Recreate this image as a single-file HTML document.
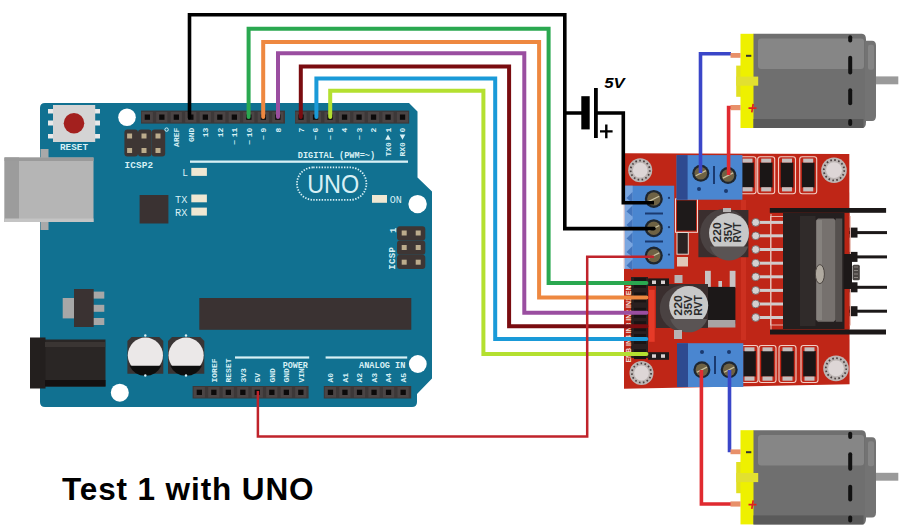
<!DOCTYPE html>
<html><head><meta charset="utf-8">
<style>
html,body{margin:0;padding:0;background:#fff;width:906px;height:529px;overflow:hidden}
svg{display:block;position:absolute;left:0;top:0}
.t{position:absolute;left:62px;top:471px;font-family:"Liberation Sans",sans-serif;font-weight:bold;font-size:31.5px;color:#000;letter-spacing:0.88px;white-space:nowrap;line-height:36px}
</style></head>
<body>
<svg width="906" height="529" viewBox="0 0 906 529" font-family="Liberation Mono">
<!-- ============ ARDUINO ============ -->
<g id="arduino">
  <path d="M45,103 H409 L417.5,111.5 V177.5 L432,191.5 V378.5 L417,394 V402 Q417,407 412,407 H45 Q40,407 40,402 V108 Q40,103 45,103 Z" fill="#117191"/>
  <!-- USB -->
  <rect x="40.5" y="149" width="8" height="81" fill="#a9a9a9"/>
  <rect x="4.5" y="157.5" width="89" height="64.5" fill="#b5b5b5"/>
  <rect x="4.5" y="157.5" width="14.5" height="64.5" fill="#9c9c9c"/>
  <rect x="4.5" y="157.5" width="89" height="3.5" fill="#9a9a9a"/>
  <rect x="4.5" y="218.5" width="89" height="3.5" fill="#c4c4c4"/>
  <!-- DC jack -->
  <rect x="45" y="339.5" width="60.5" height="47" fill="#2a2625"/>
  <rect x="30" y="337.5" width="15.5" height="51" fill="#231f1e"/>
  <rect x="45" y="342" width="60" height="5" fill="#3a3533"/>
  <rect x="45" y="380" width="60.5" height="6.5" fill="#141010"/>
  <!-- regulator -->
  <rect x="62.7" y="298" width="12" height="20.4" fill="#a7a7a7"/>
  <rect x="93" y="291.6" width="11.3" height="7" fill="#a7a7a7"/>
  <rect x="93" y="304.8" width="11.3" height="7" fill="#a7a7a7"/>
  <rect x="93" y="318" width="11.3" height="7" fill="#a7a7a7"/>
  <rect x="74" y="289" width="19.7" height="38" fill="#3a3232"/>
  <!-- reset button -->
  <rect x="48" y="109" width="52" height="4.5" fill="#e8e8e8"/>
  <rect x="48" y="120.5" width="52" height="5" fill="#e8e8e8"/>
  <rect x="48" y="134" width="52" height="4.5" fill="#e8e8e8"/>
  <rect x="53" y="105" width="42.2" height="37" fill="#d4d4d4"/>
  <circle cx="74" cy="123.3" r="10.3" fill="#a3201e"/>
  <text x="60" y="150.3" font-size="9.3" font-weight="bold" fill="#d8f0f5" textLength="28">RESET</text>
  <!-- holes -->
  <circle cx="127" cy="117.2" r="8.8" fill="#fff"/>
  <circle cx="417.6" cy="204.1" r="9.2" fill="#fff"/>
  <circle cx="119.8" cy="392.7" r="9" fill="#fff"/>
  <circle cx="417.8" cy="364" r="8.9" fill="#fff"/>
  <!-- ICSP2 -->
  <g fill="#3e3634">
    <rect x="124.4" y="129.6" width="13.6" height="27" rx="3"/>
    <rect x="138" y="129.6" width="13.6" height="27" rx="3"/>
    <rect x="151.6" y="129.6" width="13.6" height="27" rx="3"/>
  </g>
  <g fill="#bcac8c">
    <rect x="127.1" y="133.5" width="5" height="5"/><rect x="141.5" y="133.5" width="5" height="5"/><rect x="155.5" y="133.5" width="5" height="5"/>
    <rect x="127.1" y="148" width="5" height="5"/><rect x="141.5" y="148" width="5" height="5"/><rect x="155.5" y="148" width="5" height="5"/>
  </g>
  <text x="124.4" y="168.3" font-size="9.3" font-weight="bold" fill="#d8f0f5" textLength="28.6">ICSP2</text>
  <!-- ICSP -->
  <g fill="#3e3634">
    <rect x="397" y="226.3" width="28.3" height="14.2" rx="3"/>
    <rect x="397" y="240.5" width="28.3" height="14.2" rx="3"/>
    <rect x="397" y="254.7" width="28.3" height="14.3" rx="3"/>
  </g>
  <g fill="#bcac8c">
    <rect x="401.7" y="230.5" width="5" height="5"/><rect x="415.7" y="230.5" width="5" height="5"/>
    <rect x="401.7" y="245" width="5" height="5"/><rect x="415.7" y="245" width="5" height="5"/>
    <rect x="401.7" y="259.7" width="5" height="5"/><rect x="415.7" y="259.7" width="5" height="5"/>
  </g>
  <text transform="translate(395.3,269.7) rotate(-90)" font-size="9" font-weight="bold" fill="#d8f0f5" textLength="22.5">ICSP</text>
  <text transform="translate(395.8,233) rotate(-90)" font-size="9" font-weight="bold" fill="#d8f0f5">1</text>
  <!-- chips -->
  <rect x="139.6" y="195" width="28.8" height="28.5" fill="#3a3232"/>
  <rect x="199.3" y="298" width="212" height="31.8" fill="#3a3232"/>
  <!-- LEDs -->
  <g fill="#efe7d2">
    <rect x="191.3" y="167.9" width="15.6" height="8"/>
    <rect x="191.3" y="194.5" width="15.6" height="7.8"/>
    <rect x="191.3" y="207.6" width="15.6" height="8"/>
    <rect x="372" y="195" width="15" height="7.8"/>
  </g>
  <g font-family="Liberation Mono" font-size="11" fill="#d8f0f5">
    <text x="182.3" y="176.2" textLength="5.8" lengthAdjust="spacingAndGlyphs">L</text>
    <text x="175" y="202.5" textLength="12.3" lengthAdjust="spacingAndGlyphs">TX</text>
    <text x="175" y="215.7" textLength="12.3" lengthAdjust="spacingAndGlyphs">RX</text>
    <text x="389.7" y="203" textLength="12.1" lengthAdjust="spacingAndGlyphs">ON</text>
  </g>
  <!-- white lines -->
  <rect x="190" y="160.5" width="218" height="2.3" fill="#d8f0f5"/>
  <rect x="235" y="356.4" width="74.2" height="2.2" fill="#d8f0f5"/>
  <rect x="325.6" y="356.4" width="81.6" height="2.2" fill="#d8f0f5"/>
  <text x="297.8" y="158" font-size="8.6" font-weight="bold" fill="#d8f0f5">DIGITAL (PWM=~)</text>
  <text x="282.7" y="367.5" font-size="8.4" font-weight="bold" fill="#d8f0f5">POWER</text>
  <text x="359" y="367.5" font-size="8.6" font-weight="bold" fill="#d8f0f5">ANALOG IN</text>
  <!-- UNO -->
  <rect x="297" y="167.4" width="69.4" height="32.5" rx="16.2" fill="none" stroke="#d8f0f5" stroke-width="1.8" stroke-dasharray="1.4 1.4"/>
  <text x="307.2" y="193" font-size="25.5" fill="#d8f0f5" style="font-family:'Liberation Sans'" textLength="52" lengthAdjust="spacingAndGlyphs">UNO</text>
  <circle cx="166.6" cy="129.6" r="1.7" fill="none" stroke="#d8f0f5" stroke-width="1"/>
  <!-- capacitors -->
  <path d="M131.5,337 H159.3 L163.3,341 V373.8 H127.4 V341 Z" fill="#3a3535"/>
  <path d="M172,337 H200.3 L204.3,341 V373.8 H168 V341 Z" fill="#3a3535"/>
  <circle cx="145.4" cy="355.2" r="17.6" fill="#ebe8e8"/>
  <circle cx="186.1" cy="355.2" r="17.6" fill="#ebe8e8"/>
  <path d="M129.5,365.7 H161.3 A17.6,17.6 0 0 1 129.5,365.7 Z" fill="#0d0d0d"/>
  <path d="M170.2,365.7 H202 A17.6,17.6 0 0 1 170.2,365.7 Z" fill="#0d0d0d"/>
  <g fill="#d8f0f5"><circle cx="145.3" cy="335.5" r="1.2"/><circle cx="145.3" cy="375.5" r="1.2"/><circle cx="186" cy="335.5" r="1.2"/><circle cx="186" cy="375.5" r="1.2"/></g>
  <!-- headers -->
  <g id="hdrs">
    <rect x="141" y="110.6" width="144" height="13" fill="#3d3838"/>
    <rect x="295" y="110.6" width="114.2" height="13" fill="#3d3838"/>
    <rect x="192.6" y="386" width="116" height="12.5" fill="#3d3838"/>
    <rect x="323.8" y="386" width="87.4" height="12.5" fill="#3d3838"/>
  </g>
  <g fill="#4a4444">
<rect x="141.7" y="111.9" width="11.2" height="10.6" fill="#4b4545"/>
<rect x="156.2" y="111.9" width="11.2" height="10.6" fill="#4b4545"/>
<rect x="170.7" y="111.9" width="11.2" height="10.6" fill="#4b4545"/>
<rect x="185.2" y="111.9" width="11.2" height="10.6" fill="#4b4545"/>
<rect x="199.7" y="111.9" width="11.2" height="10.6" fill="#4b4545"/>
<rect x="214.2" y="111.9" width="11.2" height="10.6" fill="#4b4545"/>
<rect x="228.7" y="111.9" width="11.2" height="10.6" fill="#4b4545"/>
<rect x="243.2" y="111.9" width="11.2" height="10.6" fill="#4b4545"/>
<rect x="257.7" y="111.9" width="11.2" height="10.6" fill="#4b4545"/>
<rect x="272.2" y="111.9" width="11.2" height="10.6" fill="#4b4545"/>
<rect x="295.4" y="111.9" width="11.2" height="10.6" fill="#4b4545"/>
<rect x="309.9" y="111.9" width="11.2" height="10.6" fill="#4b4545"/>
<rect x="324.4" y="111.9" width="11.2" height="10.6" fill="#4b4545"/>
<rect x="338.9" y="111.9" width="11.2" height="10.6" fill="#4b4545"/>
<rect x="353.4" y="111.9" width="11.2" height="10.6" fill="#4b4545"/>
<rect x="367.9" y="111.9" width="11.2" height="10.6" fill="#4b4545"/>
<rect x="382.4" y="111.9" width="11.2" height="10.6" fill="#4b4545"/>
<rect x="396.9" y="111.9" width="11.2" height="10.6" fill="#4b4545"/>
<rect x="193.7" y="387.0" width="11.2" height="10.6" fill="#4b4545"/>
<rect x="208.2" y="387.0" width="11.2" height="10.6" fill="#4b4545"/>
<rect x="222.7" y="387.0" width="11.2" height="10.6" fill="#4b4545"/>
<rect x="237.2" y="387.0" width="11.2" height="10.6" fill="#4b4545"/>
<rect x="251.7" y="387.0" width="11.2" height="10.6" fill="#4b4545"/>
<rect x="266.2" y="387.0" width="11.2" height="10.6" fill="#4b4545"/>
<rect x="280.7" y="387.0" width="11.2" height="10.6" fill="#4b4545"/>
<rect x="295.2" y="387.0" width="11.2" height="10.6" fill="#4b4545"/>
<rect x="324.8" y="387.0" width="11.2" height="10.6" fill="#4b4545"/>
<rect x="339.3" y="387.0" width="11.2" height="10.6" fill="#4b4545"/>
<rect x="353.9" y="387.0" width="11.2" height="10.6" fill="#4b4545"/>
<rect x="368.4" y="387.0" width="11.2" height="10.6" fill="#4b4545"/>
<rect x="383.0" y="387.0" width="11.2" height="10.6" fill="#4b4545"/>
<rect x="397.5" y="387.0" width="11.2" height="10.6" fill="#4b4545"/>
</g>
<g fill="#0c0a0a">
<rect x="144.7" y="114.5" width="5.3" height="5.3"/>
<rect x="159.2" y="114.5" width="5.3" height="5.3"/>
<rect x="173.7" y="114.5" width="5.3" height="5.3"/>
<rect x="188.2" y="114.5" width="5.3" height="5.3"/>
<rect x="202.7" y="114.5" width="5.3" height="5.3"/>
<rect x="217.2" y="114.5" width="5.3" height="5.3"/>
<rect x="231.7" y="114.5" width="5.3" height="5.3"/>
<rect x="246.2" y="114.5" width="5.3" height="5.3"/>
<rect x="260.7" y="114.5" width="5.3" height="5.3"/>
<rect x="275.2" y="114.5" width="5.3" height="5.3"/>
<rect x="298.4" y="114.5" width="5.3" height="5.3"/>
<rect x="312.9" y="114.5" width="5.3" height="5.3"/>
<rect x="327.4" y="114.5" width="5.3" height="5.3"/>
<rect x="341.9" y="114.5" width="5.3" height="5.3"/>
<rect x="356.4" y="114.5" width="5.3" height="5.3"/>
<rect x="370.9" y="114.5" width="5.3" height="5.3"/>
<rect x="385.4" y="114.5" width="5.3" height="5.3"/>
<rect x="399.9" y="114.5" width="5.3" height="5.3"/>
<rect x="196.7" y="389.7" width="5.3" height="5.3"/>
<rect x="211.2" y="389.7" width="5.3" height="5.3"/>
<rect x="225.7" y="389.7" width="5.3" height="5.3"/>
<rect x="240.2" y="389.7" width="5.3" height="5.3"/>
<rect x="254.7" y="389.7" width="5.3" height="5.3"/>
<rect x="269.2" y="389.7" width="5.3" height="5.3"/>
<rect x="283.7" y="389.7" width="5.3" height="5.3"/>
<rect x="298.2" y="389.7" width="5.3" height="5.3"/>
<rect x="327.8" y="389.7" width="5.3" height="5.3"/>
<rect x="342.3" y="389.7" width="5.3" height="5.3"/>
<rect x="356.9" y="389.7" width="5.3" height="5.3"/>
<rect x="371.4" y="389.7" width="5.3" height="5.3"/>
<rect x="385.9" y="389.7" width="5.3" height="5.3"/>
<rect x="400.5" y="389.7" width="5.3" height="5.3"/>
</g>
<g font-size="8" fill="#d8f0f5" font-family="Liberation Mono" font-weight="bold">
<text transform="translate(179.1,127.7) rotate(-90)" text-anchor="end">AREF</text>
<text transform="translate(193.6,127.7) rotate(-90)" text-anchor="end">GND</text>
<text transform="translate(208.1,127.7) rotate(-90)" text-anchor="end">13</text>
<text transform="translate(222.6,127.7) rotate(-90)" text-anchor="end">12</text>
<text transform="translate(237.1,127.7) rotate(-90)" text-anchor="end">11</text>
<text transform="translate(237.1,139.9) rotate(-90)" text-anchor="end">~</text>
<text transform="translate(251.6,127.7) rotate(-90)" text-anchor="end">10</text>
<text transform="translate(251.6,139.9) rotate(-90)" text-anchor="end">~</text>
<text transform="translate(266.1,127.7) rotate(-90)" text-anchor="end">9</text>
<text transform="translate(266.1,135.1) rotate(-90)" text-anchor="end">~</text>
<text transform="translate(280.6,127.7) rotate(-90)" text-anchor="end">8</text>
<text transform="translate(303.8,127.7) rotate(-90)" text-anchor="end">7</text>
<text transform="translate(318.3,127.7) rotate(-90)" text-anchor="end">6</text>
<text transform="translate(318.3,135.1) rotate(-90)" text-anchor="end">~</text>
<text transform="translate(332.8,127.7) rotate(-90)" text-anchor="end">5</text>
<text transform="translate(332.8,135.1) rotate(-90)" text-anchor="end">~</text>
<text transform="translate(347.3,127.7) rotate(-90)" text-anchor="end">4</text>
<text transform="translate(361.8,127.7) rotate(-90)" text-anchor="end">3</text>
<text transform="translate(361.8,135.1) rotate(-90)" text-anchor="end">~</text>
<text transform="translate(376.3,127.7) rotate(-90)" text-anchor="end">2</text>
<text transform="translate(390.8,127.7) rotate(-90)" text-anchor="end">1</text>
<text transform="translate(405.3,127.7) rotate(-90)" text-anchor="end">0</text>
<text transform="translate(216.6,382.5) rotate(-90)">IOREF</text>
<text transform="translate(231.1,382.5) rotate(-90)">RESET</text>
<text transform="translate(245.6,382.5) rotate(-90)">3V3</text>
<text transform="translate(260.1,382.5) rotate(-90)">5V</text>
<text transform="translate(274.6,382.5) rotate(-90)">GND</text>
<text transform="translate(289.1,382.5) rotate(-90)">GND</text>
<text transform="translate(303.6,382.5) rotate(-90)">VIN</text>
<text transform="translate(333.2,382.5) rotate(-90)">A0</text>
<text transform="translate(347.8,382.5) rotate(-90)">A1</text>
<text transform="translate(362.3,382.5) rotate(-90)">A2</text>
<text transform="translate(376.8,382.5) rotate(-90)">A3</text>
<text transform="translate(391.4,382.5) rotate(-90)">A4</text>
<text transform="translate(405.9,382.5) rotate(-90)">A5</text>
<text transform="translate(390.8,142.2) rotate(-90)" text-anchor="end">TX0</text>
<text transform="translate(405.3,142.2) rotate(-90)" text-anchor="end">RX0</text>
</g>
<path d="M385.2,139.8 L388.0,134.6 L390.8,139.8 Z M399.7,134.6 L402.5,139.8 L405.3,134.6 Z" fill="#d8f0f5"/>
</g>
<g id="l298n">
<path d="M624,153.3 L849.3,154 L849.6,384.2 L624,388.7 Z" fill="#bf2617"/>
<rect x="741" y="200" width="5" height="140" fill="#cc3020"/>
<rect x="649" y="289.8" width="5.7" height="52" fill="#e63a28"/>
<path d="M771,214 V330" stroke="#e8c8c0" stroke-width="1"/>
<circle cx="640.2" cy="170.2" r="12" fill="#bdb6b4"/>
<circle cx="640.2" cy="170.2" r="7.4" fill="#ddd6d6"/>
<circle cx="640.2" cy="170.2" r="9.6" fill="none" stroke="#4a4040" stroke-width="1.8" stroke-dasharray="1.6 2.4"/>
<circle cx="834" cy="170.2" r="12.8" fill="#bdb6b4"/>
<circle cx="834" cy="170.2" r="7.9" fill="#ddd6d6"/>
<circle cx="834" cy="170.2" r="10.2" fill="none" stroke="#4a4040" stroke-width="1.8" stroke-dasharray="1.6 2.4"/>
<circle cx="641.5" cy="373" r="12" fill="#bdb6b4"/>
<circle cx="641.5" cy="373" r="7.4" fill="#ddd6d6"/>
<circle cx="641.5" cy="373" r="9.6" fill="none" stroke="#4a4040" stroke-width="1.8" stroke-dasharray="1.6 2.4"/>
<circle cx="836" cy="368.4" r="12.8" fill="#bdb6b4"/>
<circle cx="836" cy="368.4" r="7.9" fill="#ddd6d6"/>
<circle cx="836" cy="368.4" r="10.2" fill="none" stroke="#4a4040" stroke-width="1.8" stroke-dasharray="1.6 2.4"/>
<rect x="739" y="156.8" width="17" height="37" rx="2.5" fill="none" stroke="#f2cfc6" stroke-width="1.1"/>
<rect x="741.2" y="162.5" width="12.6" height="25" fill="#1a1616"/>
<rect x="742.5" y="158.6" width="10" height="4" fill="#c4bebe"/>
<rect x="742.5" y="187.2" width="10" height="4.2" fill="#c4bebe"/>
<rect x="757.7" y="156.8" width="17" height="37" rx="2.5" fill="none" stroke="#f2cfc6" stroke-width="1.1"/>
<rect x="759.9000000000001" y="162.5" width="12.6" height="25" fill="#1a1616"/>
<rect x="761.2" y="158.6" width="10" height="4" fill="#c4bebe"/>
<rect x="761.2" y="187.2" width="10" height="4.2" fill="#c4bebe"/>
<rect x="778.5" y="156.8" width="17" height="37" rx="2.5" fill="none" stroke="#f2cfc6" stroke-width="1.1"/>
<rect x="780.7" y="162.5" width="12.6" height="25" fill="#1a1616"/>
<rect x="782.0" y="158.6" width="10" height="4" fill="#c4bebe"/>
<rect x="782.0" y="187.2" width="10" height="4.2" fill="#c4bebe"/>
<rect x="799.7" y="156.8" width="17" height="37" rx="2.5" fill="none" stroke="#f2cfc6" stroke-width="1.1"/>
<rect x="801.9000000000001" y="162.5" width="12.6" height="25" fill="#1a1616"/>
<rect x="803.2" y="158.6" width="10" height="4" fill="#c4bebe"/>
<rect x="803.2" y="187.2" width="10" height="4.2" fill="#c4bebe"/>
<rect x="741" y="345.5" width="17" height="37" rx="2.5" fill="none" stroke="#f2cfc6" stroke-width="1.1"/>
<rect x="743.2" y="351" width="12.6" height="25.5" fill="#1a1616"/>
<rect x="744.5" y="347.3" width="10" height="4" fill="#c4bebe"/>
<rect x="744.5" y="376.5" width="10" height="4.2" fill="#c4bebe"/>
<rect x="759" y="345.5" width="17" height="37" rx="2.5" fill="none" stroke="#f2cfc6" stroke-width="1.1"/>
<rect x="761.2" y="351" width="12.6" height="25.5" fill="#1a1616"/>
<rect x="762.5" y="347.3" width="10" height="4" fill="#c4bebe"/>
<rect x="762.5" y="376.5" width="10" height="4.2" fill="#c4bebe"/>
<rect x="779" y="345.5" width="17" height="37" rx="2.5" fill="none" stroke="#f2cfc6" stroke-width="1.1"/>
<rect x="781.2" y="351" width="12.6" height="25.5" fill="#1a1616"/>
<rect x="782.5" y="347.3" width="10" height="4" fill="#c4bebe"/>
<rect x="782.5" y="376.5" width="10" height="4.2" fill="#c4bebe"/>
<rect x="801" y="345.5" width="17" height="37" rx="2.5" fill="none" stroke="#f2cfc6" stroke-width="1.1"/>
<rect x="803.2" y="351" width="12.6" height="25.5" fill="#1a1616"/>
<rect x="804.5" y="347.3" width="10" height="4" fill="#c4bebe"/>
<rect x="804.5" y="376.5" width="10" height="4.2" fill="#c4bebe"/>
<rect x="755" y="220.9" width="30" height="3" fill="#d0cccc"/>
<circle cx="755.7" cy="222.4" r="3.9" fill="#d4d0d0" stroke="#6a6060" stroke-width="0.8"/>
<rect x="755" y="234.3" width="30" height="3" fill="#d0cccc"/>
<circle cx="755.7" cy="235.8" r="3.9" fill="#d4d0d0" stroke="#6a6060" stroke-width="0.8"/>
<rect x="755" y="248.0" width="30" height="3" fill="#d0cccc"/>
<circle cx="755.7" cy="249.5" r="3.9" fill="#d4d0d0" stroke="#6a6060" stroke-width="0.8"/>
<rect x="755" y="261.7" width="30" height="3" fill="#d0cccc"/>
<circle cx="755.7" cy="263.2" r="3.9" fill="#d4d0d0" stroke="#6a6060" stroke-width="0.8"/>
<rect x="755" y="275.3" width="30" height="3" fill="#d0cccc"/>
<circle cx="755.7" cy="276.8" r="3.9" fill="#d4d0d0" stroke="#6a6060" stroke-width="0.8"/>
<rect x="755" y="288.9" width="30" height="3" fill="#d0cccc"/>
<circle cx="755.7" cy="290.4" r="3.9" fill="#d4d0d0" stroke="#6a6060" stroke-width="0.8"/>
<rect x="755" y="302.5" width="30" height="3" fill="#d0cccc"/>
<circle cx="755.7" cy="304" r="3.9" fill="#d4d0d0" stroke="#6a6060" stroke-width="0.8"/>
<rect x="755" y="316.0" width="30" height="3" fill="#d0cccc"/>
<circle cx="755.7" cy="317.5" r="3.9" fill="#d4d0d0" stroke="#6a6060" stroke-width="0.8"/>
<rect x="769.8" y="208" width="116.3" height="4.8" fill="#1c1818"/>
<rect x="770" y="329.5" width="116" height="5" fill="#1c1818"/>
<rect x="849" y="231.1" width="38" height="3" fill="#1c1818"/>
<rect x="849.5" y="227.6" width="8" height="10" fill="#1c1818"/>
<rect x="849" y="255.4" width="38" height="3" fill="#1c1818"/>
<rect x="849.5" y="251.9" width="8" height="10" fill="#1c1818"/>
<rect x="849" y="285.8" width="38" height="3" fill="#1c1818"/>
<rect x="849.5" y="282.3" width="8" height="10" fill="#1c1818"/>
<rect x="849" y="309.7" width="38" height="3" fill="#1c1818"/>
<rect x="849.5" y="306.2" width="8" height="10" fill="#1c1818"/>
<rect x="770.5" y="216.5" width="80" height="108.5" fill="none" stroke="#e8c0b8" stroke-width="0.9"/>
<rect x="783" y="213" width="62" height="116" fill="#241f1f"/>
<rect x="800" y="216" width="15.5" height="110" fill="#302b2a"/>
<rect x="844.5" y="213" width="5" height="116" fill="#b82414"/>
<rect x="844" y="254" width="8" height="35" fill="#1c1818"/>
<path d="M818,218.5 H833.7 L835.7,220.5 V319.8 L833.7,321.8 H818 L815.9,319.8 V220.5 Z" fill="#76716e"/>
<rect x="835.7" y="218.5" width="6.6" height="103.3" fill="#55504e"/>
<rect x="817" y="220" width="5" height="100" fill="#86827e"/>
<ellipse cx="819.9" cy="274.1" rx="4.5" ry="9.5" fill="#b0aaa0" stroke="#4a4440" stroke-width="1"/>
<rect x="852.5" y="264.7" width="7.3" height="15.6" rx="1.5" fill="#4a4542"/>
<path d="M854,267 h4 M854,270.5 h4 M854,274 h4 M854,277.5 h4" stroke="#8a8480" stroke-width="1"/>
<rect x="675.5" y="198.8" width="22" height="33.5" fill="none" stroke="#f0d8d0" stroke-width="1"/>
<rect x="677" y="200.4" width="19" height="30.2" fill="#1e1a1a"/>
<rect x="677" y="232.5" width="11.3" height="21.7" fill="#2a2222" stroke="#e8d8d0" stroke-width="1"/>
<rect x="677" y="257" width="11" height="9.5" fill="#e0c8b8"/>
<rect x="698.4" y="210" width="50" height="47.2" fill="#3a2e2e"/>
<circle cx="724.5" cy="233.4" r="24.4" fill="#4a4242"/>
<circle cx="729" cy="233" r="20" fill="#c8c8c8"/>
<path d="M709.9,246.4 H748.1 A20,20 0 0 1 709.9,246.4 Z" fill="#5a5454"/>
<rect x="723" y="208" width="8" height="4" fill="#b8b4b4"/>
<text transform="translate(720.8,242.4) rotate(-90)" font-family="Liberation Sans" font-weight="bold" font-size="10" fill="#2a2a2a" textLength="20" lengthAdjust="spacingAndGlyphs">220</text>
<text transform="translate(731.6,242.4) rotate(-90)" font-family="Liberation Sans" font-weight="bold" font-size="10" fill="#2a2a2a" textLength="20" lengthAdjust="spacingAndGlyphs">35V</text>
<text transform="translate(741.3,242.4) rotate(-90)" font-family="Liberation Sans" font-weight="bold" font-size="10" fill="#2a2a2a" textLength="20" lengthAdjust="spacingAndGlyphs">RVT</text>
<rect x="705" y="270.8" width="5.8" height="17" fill="#c8c4c4"/>
<rect x="729.7" y="270.8" width="5.8" height="17" fill="#c8c4c4"/>
<rect x="718.4" y="281" width="3.6" height="6" fill="#c8c4c4"/>
<rect x="704.2" y="286.9" width="31.2" height="36.8" fill="#1c1818"/>
<rect x="704.2" y="320" width="31.2" height="7.5" fill="#a8a4a4"/>
<rect x="656" y="284" width="52" height="44" fill="#3a2e2e"/>
<circle cx="683" cy="308.4" r="23.2" fill="#4a4242"/>
<circle cx="688.7" cy="305.5" r="19.5" fill="#c8c8c8"/>
<path d="M670.2,319 H707.2 A19.5,19.5 0 0 1 670.2,319 Z" fill="#5a5454"/>
<rect x="674.5" y="275" width="8" height="8" fill="#b8b4b4"/>
<rect x="674" y="330" width="8" height="9" fill="#b8b4b4"/>
<text transform="translate(681.8,315.7) rotate(-90)" font-family="Liberation Sans" font-weight="bold" font-size="10.5" fill="#2a2a2a" textLength="20.5" lengthAdjust="spacingAndGlyphs">220</text>
<text transform="translate(692.3,315.7) rotate(-90)" font-family="Liberation Sans" font-weight="bold" font-size="10.5" fill="#2a2a2a" textLength="20.5" lengthAdjust="spacingAndGlyphs">35V</text>
<text transform="translate(702.3,315.7) rotate(-90)" font-family="Liberation Sans" font-weight="bold" font-size="10.5" fill="#2a2a2a" textLength="20.5" lengthAdjust="spacingAndGlyphs">RVT</text>
<rect x="631" y="277" width="17" height="81" fill="#2a2020"/>
<rect x="634" y="277.9" width="12" height="10" fill="#1a1414"/>
<rect x="634" y="292.4" width="12" height="10" fill="#1a1414"/>
<rect x="634" y="307.8" width="12" height="10" fill="#1a1414"/>
<rect x="634" y="321.2" width="12" height="10" fill="#1a1414"/>
<rect x="634" y="334.0" width="12" height="10" fill="#1a1414"/>
<rect x="634" y="349.1" width="12" height="10" fill="#1a1414"/>
<text transform="translate(630.5,362.6) rotate(-90)" font-family="Liberation Sans" font-weight="bold" font-size="6.5" fill="#f0e0d8" textLength="82" lengthAdjust="spacingAndGlyphs">ENB IN4 IN3 IN2 IN1 ENA</text>
<rect x="648.1" y="278.4" width="20.9" height="7.6" fill="#1e1a1a"/>
<rect x="652" y="280.5" width="4" height="3.5" fill="#d8d0d0"/><rect x="661" y="280.5" width="4" height="3.5" fill="#d8d0d0"/>
<rect x="648.1" y="352.2" width="20.9" height="7.6" fill="#1e1a1a"/>
<rect x="652" y="354.3" width="4" height="3.5" fill="#d8d0d0"/><rect x="661" y="354.3" width="4" height="3.5" fill="#d8d0d0"/>
<rect x="624.2" y="185.7" width="50" height="83.1" fill="#4a86d0"/>
<rect x="624.2" y="185.7" width="8.5" height="83.1" fill="#7aa6e0"/>
<rect x="623.5" y="185.7" width="1.2" height="83.1" fill="#e8d0d0"/>
<path d="M645,213.5 H663 M645,241.5 H663" stroke="#1a3a70" stroke-width="2"/>
<path d="M632.5,192.0 L626.5,198.0 L632.5,203.0 Z" fill="#4274bc"/>
<path d="M632.5,205.5 L626.5,211.5 L632.5,216.5 Z" fill="#4274bc"/>
<path d="M632.5,219.0 L626.5,225.0 L632.5,230.0 Z" fill="#4274bc"/>
<path d="M632.5,232.5 L626.5,238.5 L632.5,243.5 Z" fill="#4274bc"/>
<path d="M632.5,246.0 L626.5,252.0 L632.5,257.0 Z" fill="#4274bc"/>
<path d="M632.5,259.5 L626.5,265.5 L632.5,270.5 Z" fill="#4274bc"/>
<circle cx="669" cy="197.9" r="1.1" fill="#1a3a70"/>
<circle cx="669" cy="227.2" r="1.1" fill="#1a3a70"/>
<circle cx="669" cy="254.6" r="1.1" fill="#1a3a70"/>
<circle cx="653.8" cy="198.9" r="9" fill="#1e2630"/>
<circle cx="653.8" cy="198.9" r="6.7" fill="#6e6244"/>
<path d="M648.4,201.6 L659.2,196.2" stroke="#c8c0a0" stroke-width="1.2"/>
<circle cx="653.8" cy="228.2" r="9" fill="#1e2630"/>
<circle cx="653.8" cy="228.2" r="6.7" fill="#6e6244"/>
<path d="M648.4,230.9 L659.2,225.5" stroke="#c8c0a0" stroke-width="1.2"/>
<circle cx="653.8" cy="255.6" r="9" fill="#1e2630"/>
<circle cx="653.8" cy="255.6" r="6.7" fill="#6e6244"/>
<path d="M648.4,258.3 L659.2,252.9" stroke="#c8c0a0" stroke-width="1.2"/>
<rect x="676.6" y="155.1" width="65.8" height="44.6" fill="#4a86d0"/>
<rect x="676.6" y="155.1" width="11" height="44.6" fill="#2e4a90"/>
<rect x="713" y="166" width="2" height="18" fill="#1a3a70"/>
<circle cx="699" cy="189" r="2" fill="#1a3a70"/><circle cx="726" cy="191" r="2" fill="#1a3a70"/>
<circle cx="700.8" cy="173.2" r="8.5" fill="#1e2630"/>
<circle cx="700.8" cy="173.2" r="6.3" fill="#6e6244"/>
<path d="M695.7,175.8 L705.9,170.6" stroke="#c8c0a0" stroke-width="1.2"/>
<circle cx="728" cy="175.5" r="8.5" fill="#1e2630"/>
<circle cx="728" cy="175.5" r="6.3" fill="#6e6244"/>
<path d="M722.9,178.1 L733.1,172.9" stroke="#c8c0a0" stroke-width="1.2"/>
<rect x="677" y="343.2" width="66.3" height="43.8" fill="#4a86d0"/>
<rect x="677" y="343.2" width="11" height="43.8" fill="#2e4a90"/>
<rect x="714" y="356" width="2" height="18" fill="#1a3a70"/>
<circle cx="702" cy="352" r="2" fill="#1a3a70"/><circle cx="729" cy="352" r="2" fill="#1a3a70"/>
<circle cx="701.9" cy="369.7" r="8.5" fill="#1e2630"/>
<circle cx="701.9" cy="369.7" r="6.3" fill="#6e6244"/>
<path d="M696.8,372.2 L707.0,367.1" stroke="#c8c0a0" stroke-width="1.2"/>
<circle cx="729.2" cy="369.7" r="8.5" fill="#1e2630"/>
<circle cx="729.2" cy="369.7" r="6.3" fill="#6e6244"/>
<path d="M724.1,372.2 L734.3,367.1" stroke="#c8c0a0" stroke-width="1.2"/>
</g>
<path d="M189.5,117.8 V14.7 H564.8 V228.6 H654" fill="none" stroke="#000" stroke-width="3.6" stroke-linecap="round" stroke-linejoin="miter"/>
<path d="M564.8,113 H582 M597,113 H623.3 V202.7 H654" fill="none" stroke="#000" stroke-width="3.6" stroke-linecap="butt" stroke-linejoin="miter"/>
<path d="M248.6,117 V28.8 H548.6 V282.9 H646.4" fill="none" stroke="#2aa850" stroke-width="4" stroke-linecap="round" stroke-linejoin="miter"/>
<path d="M263.2,117 V42 H539.1 V297.4 H646.4" fill="none" stroke="#ee8840" stroke-width="4" stroke-linecap="round" stroke-linejoin="miter"/>
<path d="M278,117 V53.3 H524.3 V312.8 H646.4" fill="none" stroke="#9a4ea0" stroke-width="4" stroke-linecap="round" stroke-linejoin="miter"/>
<path d="M300.8,117 V66.4 H509.1 V326.2 H646.4" fill="none" stroke="#7a0c10" stroke-width="4" stroke-linecap="round" stroke-linejoin="miter"/>
<path d="M316.4,117 V78.4 H495.2 V339 H646.4" fill="none" stroke="#1a9ad8" stroke-width="4" stroke-linecap="round" stroke-linejoin="miter"/>
<path d="M330.2,117 V90.7 H483.4 V354.1 H646.4" fill="none" stroke="#b4e030" stroke-width="4" stroke-linecap="round" stroke-linejoin="miter"/>
<path d="M257.9,391 V436.5 H587.2 V256.8 H654" fill="none" stroke="#c0232b" stroke-width="2.5" stroke-linecap="butt" stroke-linejoin="miter"/>
<path d="M700.5,173 V53.7 H731" fill="none" stroke="#3a46c8" stroke-width="3.6" stroke-linecap="butt" stroke-linejoin="miter"/>
<path d="M728.6,175 V107.5 H731" fill="none" stroke="#e02a30" stroke-width="3.6" stroke-linecap="butt" stroke-linejoin="miter"/>
<path d="M701.4,370 V504 H731" fill="none" stroke="#e02a30" stroke-width="3.6" stroke-linecap="butt" stroke-linejoin="miter"/>
<path d="M729.5,370 V450.4 H731" fill="none" stroke="#3a46c8" stroke-width="3.6" stroke-linecap="butt" stroke-linejoin="miter"/>
<rect x="736.2" y="65.6" width="5" height="31.2" fill="#e2e022"/>
<rect x="740.5" y="33.8" width="13.5" height="94.2" fill="#eef000"/>
<path d="M753.5,33.8 H862 Q866,33.8 866,39.8 V122.0 Q866,128.0 862,128.0 H753.5 Z" fill="#6f6f6f"/>
<rect x="758" y="38.5" width="106" height="30.5" rx="3" fill="#868686"/>
<rect x="753.5" y="119.0" width="110" height="9" fill="#5a5a5a"/>
<path d="M865,40.8 H872 Q876,40.8 876,45.8 V116.0 Q876,121.0 872,121.0 H865 Z" fill="#737373"/>
<rect x="868" y="44.8" width="6" height="25" rx="2" fill="#858585"/>
<rect x="876" y="76.4" width="22.3" height="7.9" fill="#9a9a9a"/>
<rect x="848.2" y="35.3" width="4" height="7.3" rx="2" fill="#111"/>
<rect x="848.2" y="55.8" width="4" height="18.6" rx="2" fill="#111"/>
<rect x="848.2" y="88.3" width="4" height="16.9" rx="2" fill="#111"/>
<rect x="848.2" y="119.0" width="4" height="7.0" rx="2" fill="#111"/>
<rect x="736.2" y="76.6" width="22" height="9.1" fill="#e2e030"/>
<rect x="730.5" y="53.0" width="10" height="4.8" fill="#e8906a"/>
<rect x="730.5" y="105.0" width="10" height="5.2" fill="#e8906a"/>
<rect x="746" y="54.8" width="5.3" height="2" fill="#333"/>
<path d="M748.5,108.2 h8 M753.2,104.0 l-1.4,8.4" stroke="#e02020" stroke-width="1.7"/>
<rect x="736.2" y="462.0" width="5" height="31.2" fill="#e2e022"/>
<rect x="740.5" y="430.2" width="13.5" height="94.2" fill="#eef000"/>
<path d="M753.5,430.2 H862 Q866,430.2 866,436.2 V518.4 Q866,524.4 862,524.4 H753.5 Z" fill="#6f6f6f"/>
<rect x="758" y="434.9" width="106" height="30.5" rx="3" fill="#868686"/>
<rect x="753.5" y="515.4" width="110" height="9" fill="#5a5a5a"/>
<path d="M865,437.2 H872 Q876,437.2 876,442.2 V512.4 Q876,517.4 872,517.4 H865 Z" fill="#737373"/>
<rect x="868" y="441.2" width="6" height="25" rx="2" fill="#858585"/>
<rect x="876" y="472.8" width="22.3" height="7.9" fill="#9a9a9a"/>
<rect x="848.2" y="431.7" width="4" height="7.3" rx="2" fill="#111"/>
<rect x="848.2" y="452.2" width="4" height="18.6" rx="2" fill="#111"/>
<rect x="848.2" y="484.7" width="4" height="16.9" rx="2" fill="#111"/>
<rect x="848.2" y="515.4" width="4" height="7.0" rx="2" fill="#111"/>
<rect x="736.2" y="473.0" width="22" height="9.1" fill="#e2e030"/>
<rect x="730.5" y="449.4" width="10" height="4.8" fill="#e8906a"/>
<rect x="730.5" y="501.4" width="10" height="5.2" fill="#e8906a"/>
<rect x="746" y="451.2" width="5.3" height="2" fill="#333"/>
<path d="M748.5,504.6 h8 M753.2,500.4 l-1.4,8.4" stroke="#e02020" stroke-width="1.7"/>
<rect x="581.3" y="96.2" width="8.4" height="33.2" fill="#000"/>
<rect x="594" y="88" width="3.8" height="50" fill="#000"/>
<path d="M600,131.4 H612.6 M606.3,124.6 V138.2" stroke="#000" stroke-width="2.4"/>
<text x="604.3" y="87.8" font-family="Liberation Sans" font-style="italic" font-weight="bold" font-size="15" fill="#000" textLength="20.5" lengthAdjust="spacingAndGlyphs">5V</text>
</svg>
<div class="t">Test 1 with UNO</div>
</body></html>
